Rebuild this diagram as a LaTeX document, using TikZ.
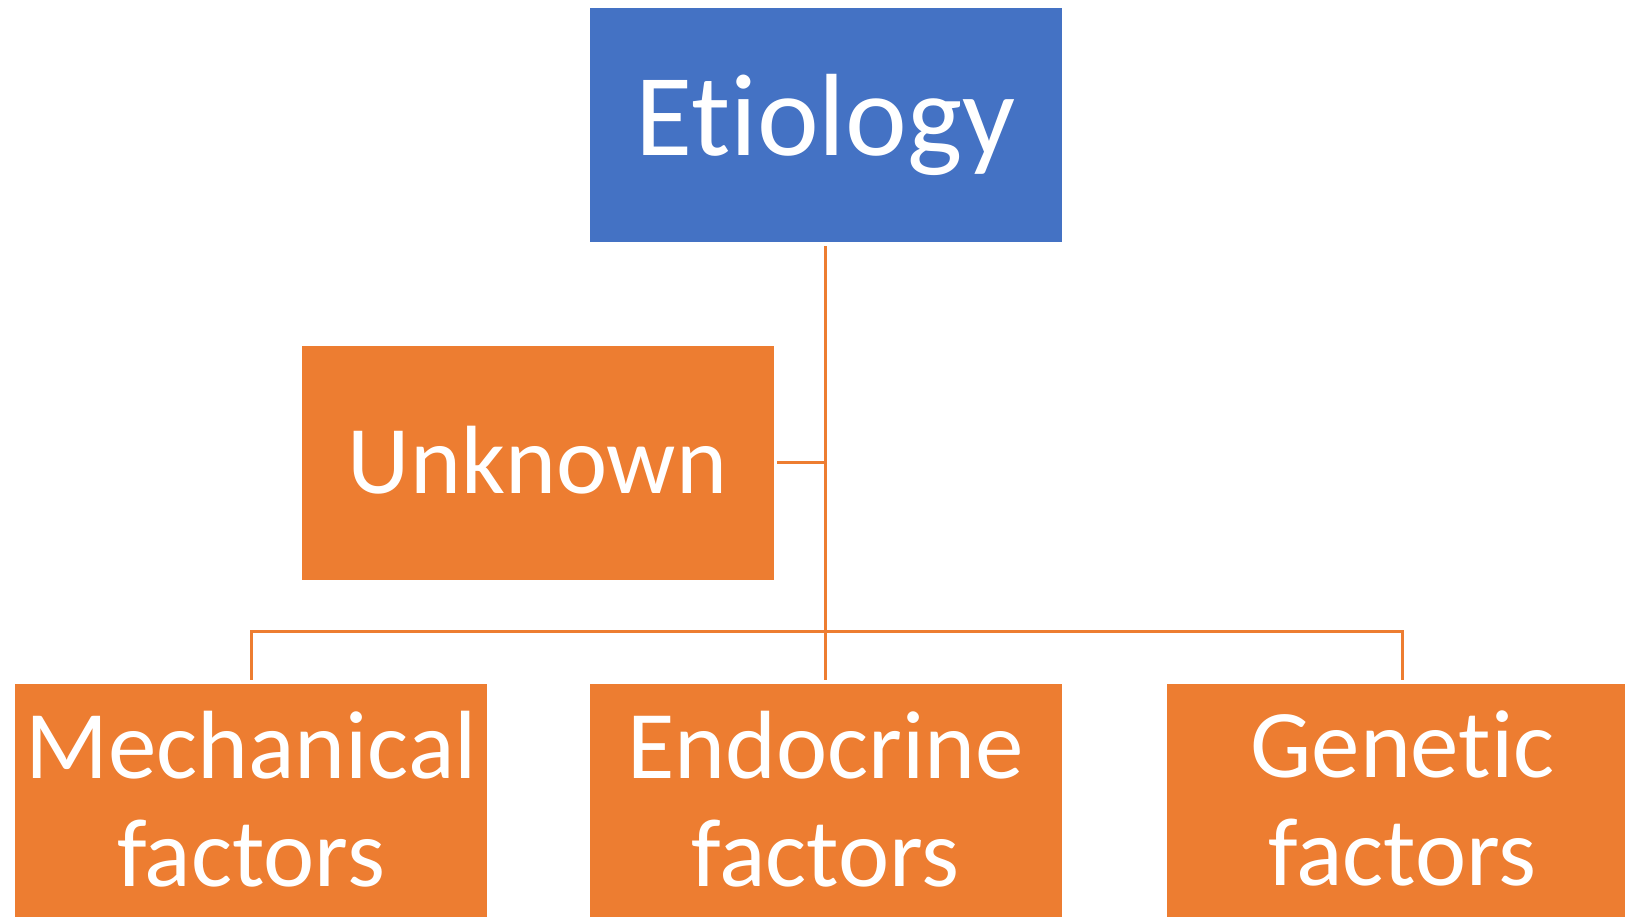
\documentclass[tikz,border=0pt]{standalone}
\usepackage{fontspec}
\setmainfont{Carlito}[Ligatures=NoCommon]
\definecolor{offblue}{HTML}{4472C4}
\definecolor{offorange}{HTML}{ED7D31}
\begin{document}
\begin{tikzpicture}[x=1pt,y=-1pt,
  boxbase/.style={rectangle,inner sep=0pt,minimum width=473pt,minimum height=235pt,
    text=white,align=center,draw=white,line width=0.8pt},
  topbox/.style={boxbase,fill=offblue,font=\fontsize{117}{130}\selectfont},
  orbox/.style={boxbase,fill=offorange,font=\fontsize{97}{108}\selectfont},
  conn/.style={draw=offorange,line width=3pt}]
\useasboundingbox (0,0) rectangle (1625,917);
\begin{scope}
\clip (0,0) rectangle (1625,917);
\node[topbox] (etiology) at (825.5,125) {Etiology};
\node[orbox] (unknown) at (537.5,462.5) {\raisebox{6pt}{Unknown}};
\node[orbox] (mech) at (251,800.5) {\raisebox{4pt}{Mechanical}\\\raisebox{4pt}{factors}};
\node[orbox] (endo) at (825.5,800.5) {\raisebox{4pt}{Endocrine}\\\raisebox{4pt}{factors}};
\node[orbox] (gen) at (1402.5,800.5) {\raisebox{4pt}{Genetic}\\\raisebox{4pt}{factors}};
\end{scope}
\coordinate (bus) at (825.5,631);
\draw[conn] ([yshift=-3pt]etiology.south) -- ([yshift=3pt]endo.north);
\draw[conn] ([xshift=3pt]unknown.east) -- (unknown.east -| etiology.south);
\draw[conn] ([yshift=3pt]mech.north) -- (mech.north |- bus) -- (gen.north |- bus) -- ([yshift=3pt]gen.north);
\end{tikzpicture}
\end{document}
